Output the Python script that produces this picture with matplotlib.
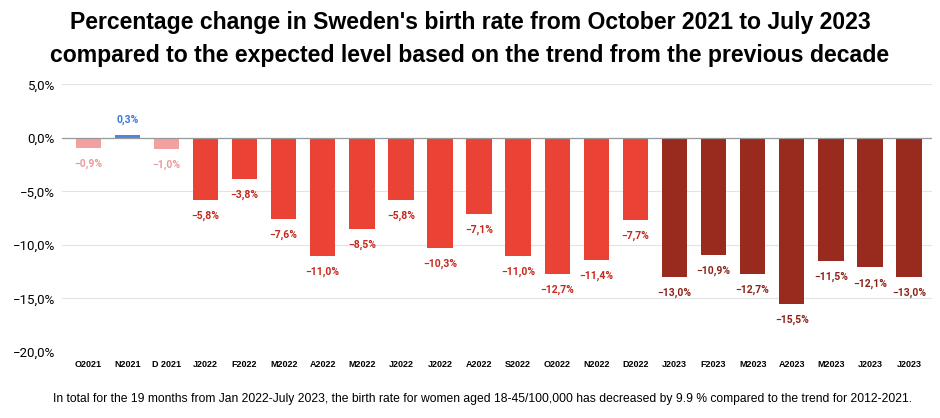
import matplotlib.pyplot as plt
import numpy as np

plt.rcParams['font.family'] = ['Liberation Sans', 'DejaVu Sans']

months = ['O2021', 'N2021', 'D 2021', 'J2022', 'F2022', 'M2022', 'A2022', 'M2022',
          'J2022', 'J2022', 'A2022', 'S2022', 'O2022', 'N2022', 'D2022',
          'J2023', 'F2023', 'M2023', 'A2023', 'M2023', 'J2023', 'J2023']
change = [-0.9, 0.3, -1.0, -5.8, -3.8, -7.6, -11.0, -8.5,
          -5.8, -10.3, -7.1, -11.0, -12.7, -11.4, -7.7,
          -13.0, -10.9, -12.7, -15.5, -11.5, -12.1, -13.0]
# groups: 2021 (pink / blue), 2022, 2023
group = ['a', 'b', 'a'] + ['c'] * 12 + ['d'] * 7

bar_col = {'a': '#f2a0a0', 'b': '#4a86e8', 'c': '#ea4335', 'd': '#992a1e'}
lab_col = {'a': '#eb9a9a', 'b': '#3c78d8', 'c': '#c5281c', 'd': '#8c2318'}

fig = plt.figure(figsize=(9.4, 4.18), dpi=100)
ax = fig.add_axes([0.066, 0.158, 0.926, 0.64])

x = np.arange(len(months))
ax.bar(x, change, width=0.65, color=[bar_col[g] for g in group], zorder=3)

for xi, v, g in zip(x, change, group):
    txt = f'{v:.1f}%'.replace('.', ',').replace('-', '\u2212')
    off = 11 if v >= 0 else -11.5
    ax.annotate(txt, (xi, v), xytext=(0, off), textcoords='offset points',
                ha='center', va='center', fontsize=7.5, fontweight='bold',
                color=lab_col[g], family=['Roboto', 'DejaVu Sans'])

ax.set_ylim(-20, 5)
ax.set_xlim(-0.67, 21.6)
yt = [5, 0, -5, -10, -15, -20]
ax.set_yticks(yt)
ax.set_yticklabels([f'{t:.1f}%'.replace('.', ',').replace('-', '\u2212') for t in yt],
                   fontsize=9.5, family=['Roboto', 'DejaVu Sans'])
ax.set_xticks(x)
ax.set_xticklabels(months, fontsize=6.5, fontweight='bold')
ax.tick_params(length=0, pad=6)
ax.tick_params(axis='y', pad=5)
ax.grid(axis='y', color='#e3e3e3', linewidth=0.8, zorder=0)
ax.axhline(0, color='#999999', linewidth=0.9, zorder=4)
for s in ax.spines.values():
    s.set_visible(False)

fig.text(0.5, 0.945, "Percentage change in Sweden's birth rate from October 2021 to July 2023",
         ha='center', va='center', fontsize=16.6, fontweight='bold')
fig.text(0.5, 0.868, "compared to the expected level based on the trend from the previous decade",
         ha='center', va='center', fontsize=16.6, fontweight='bold')
fig.text(0.513, 0.045, 'In total for the 19 months from Jan 2022-July 2023, the birth rate for women aged '
         '18-45/100,000 has decreased by 9.9 % compared to the trend for 2012-2021.',
         ha='center', va='center', fontsize=8.7)

fig.savefig('out.png', dpi=100)
